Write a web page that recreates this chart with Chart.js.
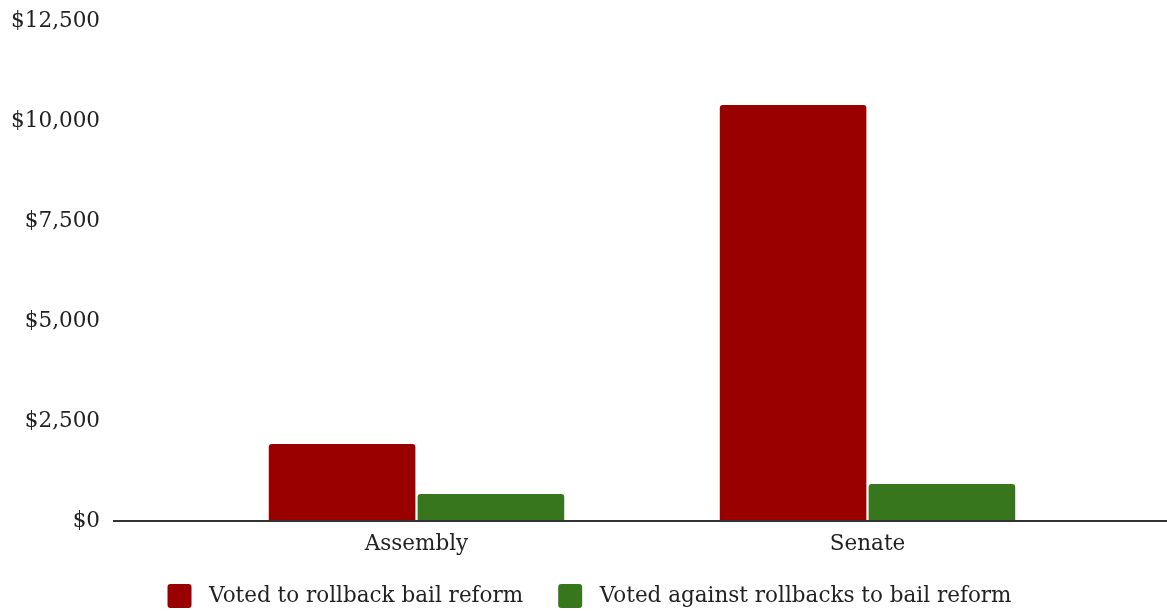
<!DOCTYPE html>
<html>
<head>
<meta charset="utf-8">
<script src="https://cdn.jsdelivr.net/npm/chart.js@4/dist/chart.umd.min.js"></script>
<style>
  html, body { margin: 0; padding: 0; background: #fff; }
  #wrap { width: 1167px; height: 611px; }
</style>
</head>
<body>
<div id="wrap"><canvas id="c"></canvas></div>
<script>
const chambers = ['Assembly', 'Senate'];
const seriesNames = ['Voted to rollback bail reform', 'Voted against rollbacks to bail reform'];
const rollbackVotes = [1925, 10400];
const againstVotes = [675, 925];
const yTicks = [0, 2500, 5000, 7500, 10000, 12500];

const FONT = 'DejaVu Serif';
const FONT_SIZE = 21.5;

// Baseline that runs past the plot area on both sides
const baseline = {
  id: 'baseline',
  afterDatasetsDraw(chart) {
    const { ctx, chartArea, scales } = chart;
    const y = scales.y.getPixelForValue(0);
    ctx.save();
    ctx.strokeStyle = '#333333';
    ctx.lineWidth = 2;
    ctx.beginPath();
    ctx.moveTo(chartArea.left - 78, y);
    ctx.lineTo(chart.width, y);
    ctx.stroke();
    ctx.restore();
  }
};

// Keep the legend strip compact while leaving wide gaps between its items
const compactLegend = {
  id: 'compactLegend',
  afterInit(chart) {
    const lg = chart.legend;
    const fit = lg.fit.bind(lg);
    lg.fit = function () { fit(); this.height = 53; };
  },
  afterLayout(chart) {
    chart.legend.top -= 9;
    chart.legend.left += 12;
  }
};

new Chart(document.getElementById('c'), {
  type: 'bar',
  data: {
    labels: chambers,
    datasets: [
      { label: seriesNames[0], data: rollbackVotes, backgroundColor: '#990000',
        borderRadius: { topLeft: 3, topRight: 3 }, borderSkipped: 'bottom' },
      { label: seriesNames[1], data: againstVotes, backgroundColor: '#38761d',
        borderRadius: { topLeft: 3, topRight: 3 }, borderSkipped: 'bottom' }
    ]
  },
  options: {
    responsive: true,
    maintainAspectRatio: false,
    animation: false,
    layout: { padding: { top: 21, right: 0, left: 0, bottom: 0 } },
    datasets: { bar: { categoryPercentage: 0.66, barPercentage: 0.985 } },
    scales: {
      x: {
        afterFit(axis) { axis.height = 37; },
        grid: { display: false, drawTicks: false },
        border: { display: false },
        ticks: { color: '#222', font: { family: FONT, size: FONT_SIZE }, padding: 11 }
      },
      y: {
        min: 0, max: 12500,
        afterBuildTicks(axis) { axis.ticks = yTicks.map(v => ({ value: v })); },
        afterFit(axis) { axis.width = 191; axis.paddingTop = 0; axis.paddingBottom = 0; },
        grid: { display: false },
        border: { display: false },
        ticks: {
          color: '#222',
          font: { family: FONT, size: FONT_SIZE },
          padding: 83,
          callback: v => '$' + v.toLocaleString('en-US')
        }
      },
      // empty strip on the right of the plot
      yRight: {
        position: 'right',
        display: true,
        afterFit(axis) { axis.width = 74; axis.paddingTop = 0; axis.paddingBottom = 0; },
        grid: { display: false },
        border: { display: false },
        ticks: { display: false }
      }
    },
    plugins: {
      legend: {
        position: 'bottom',
        labels: {
          color: '#222',
          font: { family: FONT, size: FONT_SIZE },
          boxWidth: 24, boxHeight: 24, padding: 35,
          useBorderRadius: true, borderRadius: 3,
          generateLabels(chart) {
            const items = Chart.defaults.plugins.legend.labels.generateLabels(chart);
            items.forEach(it => { it.text = ' ' + it.text; });
            return items;
          }
        }
      },
      tooltip: { enabled: false }
    }
  },
  plugins: [baseline, compactLegend]
});
</script>
</body>
</html>
